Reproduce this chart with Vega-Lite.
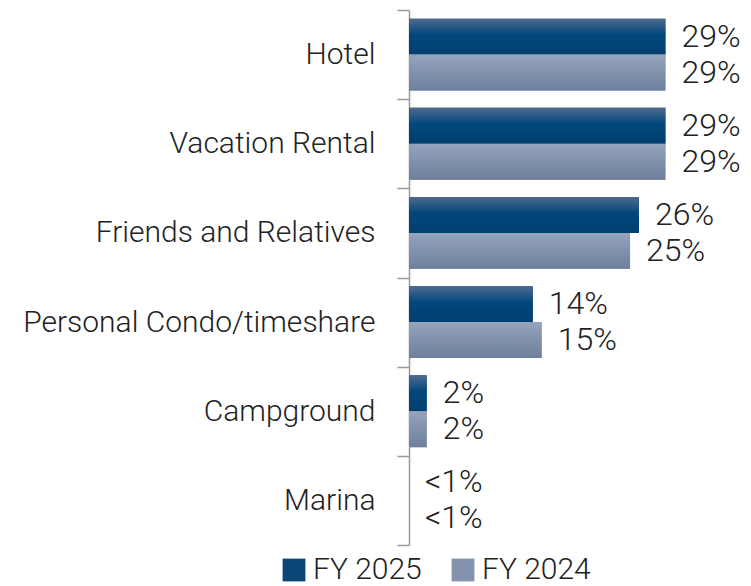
{
  "$schema": "https://vega.github.io/schema/vega-lite/v6.json",
  "width": 336,
  "height": 535,
  "autosize": {"type": "none"},
  "padding": {"left": 409, "top": 10, "right": 6, "bottom": 41},
  "background": "white",
  "config": {
    "view": {"stroke": null},
    "font": "Roboto",
    "text": {"font": "Roboto"}
  },
  "data": {
    "values": [
      {"category": "Hotel", "series": "FY 2025", "value": 29, "label": "29%"},
      {"category": "Hotel", "series": "FY 2024", "value": 29, "label": "29%"},
      {"category": "Vacation Rental", "series": "FY 2025", "value": 29, "label": "29%"},
      {"category": "Vacation Rental", "series": "FY 2024", "value": 29, "label": "29%"},
      {"category": "Friends and Relatives", "series": "FY 2025", "value": 26, "label": "26%"},
      {"category": "Friends and Relatives", "series": "FY 2024", "value": 25, "label": "25%"},
      {"category": "Personal Condo/timeshare", "series": "FY 2025", "value": 14, "label": "14%"},
      {"category": "Personal Condo/timeshare", "series": "FY 2024", "value": 15, "label": "15%"},
      {"category": "Campground", "series": "FY 2025", "value": 2, "label": "2%"},
      {"category": "Campground", "series": "FY 2024", "value": 2, "label": "2%"},
      {"category": "Marina", "series": "FY 2025", "value": 0, "label": "<1%"},
      {"category": "Marina", "series": "FY 2024", "value": 0, "label": "<1%"}
    ]
  },
  "encoding": {
    "y": {
      "field": "category",
      "type": "nominal",
      "sort": null,
      "scale": {"paddingInner": 0, "paddingOuter": 0},
      "axis": {
        "title": null,
        "domainColor": "#9a9a9a",
        "domainWidth": 1.5,
        "tickColor": "#9a9a9a",
        "tickWidth": 1.5,
        "tickSize": 12,
        "tickBand": "extent",
        "labelFont": "Roboto",
        "labelFontWeight": 300,
        "labelFontSize": 30,
        "labelColor": "#222222",
        "labelPadding": 22,
        "labelLimit": 500
      }
    },
    "yOffset": {
      "field": "series",
      "type": "nominal",
      "scale": {"domain": ["FY 2025", "FY 2024"], "paddingOuter": 0.24, "paddingInner": 0}
    },
    "x": {
      "field": "value",
      "type": "quantitative",
      "scale": {"domain": [0, 38], "nice": false},
      "axis": null
    }
  },
  "layer": [
    {
      "mark": {"type": "bar", "strokeWidth": 0},
      "encoding": {
        "color": {
          "field": "series",
          "type": "nominal",
          "scale": {"domain": ["FY 2025", "FY 2024"], "range": ["#0b4677", "#8393ad"]},
          "legend": {
            "title": null,
            "orient": "none",
            "direction": "horizontal",
            "legendX": -130,
            "legendY": 545,
            "symbolType": "square",
            "symbolSize": 520,
            "symbolStrokeWidth": 0,
            "labelFont": "Roboto",
            "labelFontWeight": 300,
            "labelFontSize": 30,
            "labelColor": "#222222",
            "labelOffset": 4,
            "columnPadding": 26
          }
        }
      }
    },
    {
      "transform": [{"filter": "datum.series === 'FY 2025'"}],
      "mark": {
        "type": "bar",
        "strokeWidth": 0,
        "fill": {
          "gradient": "linear",
          "x1": 0, "y1": 0, "x2": 0, "y2": 1,
          "stops": [
            {"offset": 0, "color": "#4f6a8e"},
            {"offset": 0.45, "color": "#02477c"},
            {"offset": 1, "color": "#003f70"}
          ]
        }
      }
    },
    {
      "transform": [{"filter": "datum.series === 'FY 2024'"}],
      "mark": {
        "type": "bar",
        "strokeWidth": 0,
        "fill": {
          "gradient": "linear",
          "x1": 0, "y1": 0, "x2": 0, "y2": 1,
          "stops": [
            {"offset": 0, "color": "#96a4bc"},
            {"offset": 1, "color": "#6d7f9c"}
          ]
        }
      }
    },
    {
      "mark": {
        "type": "text",
        "align": "left",
        "baseline": "middle",
        "dx": 16,
        "font": "Roboto",
        "fontWeight": 300,
        "fontSize": 32,
        "color": "#222222"
      },
      "encoding": {
        "text": {"field": "label", "type": "nominal"}
      }
    }
  ]
}
